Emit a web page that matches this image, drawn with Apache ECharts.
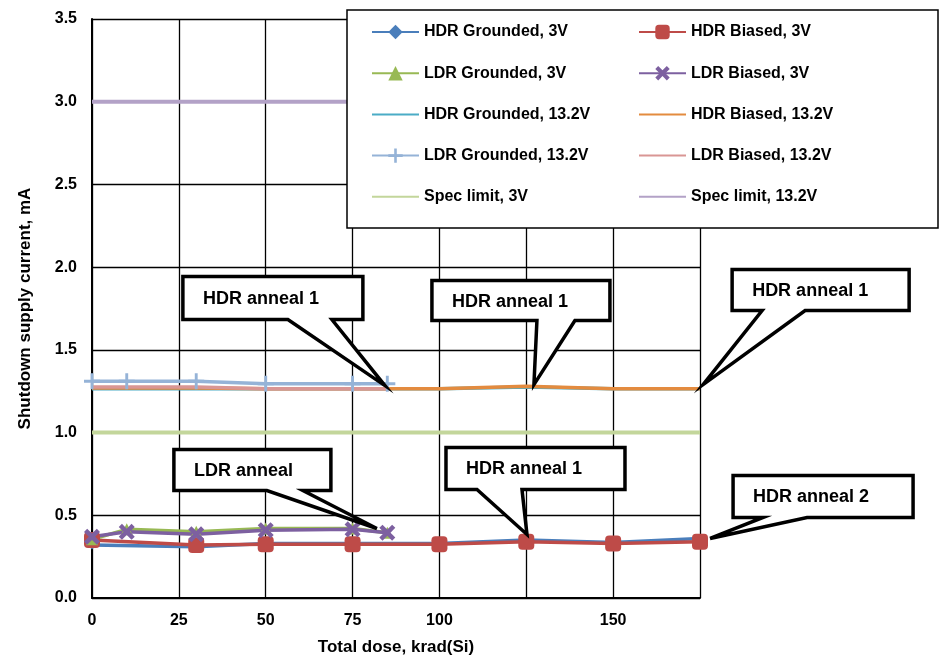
<!DOCTYPE html>
<html>
<head>
<meta charset="utf-8">
<script src="https://cdn.jsdelivr.net/npm/echarts@6/dist/echarts.min.js"></script>
<style>
html,body{margin:0;padding:0;background:#fff;}
#chart{width:943px;height:661px;}
</style>
</head>
<body>
<div id="chart"></div>
<script>
// ---- Data ----
const ldrDose = [0, 10, 30, 50, 75, 85];
const hdrDose = [0, 30, 50, 75, 100, 125, 150, 175];
const specDose = [0, 175];

const hdrGrounded3V  = [0.32, 0.31, 0.33, 0.33, 0.33, 0.35, 0.335, 0.36];
const hdrBiased3V    = [0.35, 0.32, 0.325, 0.325, 0.325, 0.34, 0.33, 0.34];
const ldrGrounded3V  = [0.355, 0.415, 0.40, 0.42, 0.42, 0.395];
const ldrBiased3V    = [0.37, 0.40, 0.385, 0.41, 0.415, 0.395];
const hdrGrounded13V = [1.265, 1.265, 1.265, 1.265, 1.265, 1.275, 1.265, 1.265];
const hdrBiased13V   = [1.27, 1.27, 1.265, 1.265, 1.265, 1.28, 1.265, 1.265];
const ldrGrounded13V = [1.31, 1.31, 1.31, 1.295, 1.295, 1.295];
const ldrBiased13V   = [1.275, 1.275, 1.275, 1.265, 1.265, 1.265];
const spec3V  = [1.0, 1.0];
const spec13V = [3.0, 3.0];

const seriesNames = [
  'HDR Grounded, 3V', 'HDR Biased, 3V',
  'LDR Grounded, 3V', 'LDR Biased, 3V',
  'HDR Grounded, 13.2V', 'HDR Biased, 13.2V',
  'LDR Grounded, 13.2V', 'LDR Biased, 13.2V',
  'Spec limit, 3V', 'Spec limit, 13.2V'
];

const xTickValues = [0, 25, 50, 75, 100, 150];

const calloutTexts   = ['HDR anneal 1', 'HDR anneal 1', 'HDR anneal 1', 'LDR anneal', 'HDR anneal 1', 'HDR anneal 2'];
const calloutDose    = [84.3, 127.2, 175.9, 82.0, 125.2, 177.9];
const calloutCurrent = [1.284, 1.29, 1.29, 0.42, 0.384, 0.36];

// ---- Layout / styles ----
const FONT = '"Liberation Sans", Arial, sans-serif';
// box offsets relative to the callout tip: [left, top, width, height, tailBaseLeft, tailBaseRight]
const calloutLayout = [
  [-202, -109, 180, 43, -97, -53],
  [-102, -104, 178, 40, 3, 41],
  [29, -115, 177, 41, 59, 102],
  [-203, -79, 157, 41, -110, -74],
  [-81, -87, 179, 42, -50, -5],
  [23, -63, 180, 42, 53, 97]
];

function pairs(xs, ys) { return xs.map((x, i) => [x, ys[i]]); }

const X_PATH = 'path://M2,0 L5,3 L8,0 L10,2 L7,5 L10,8 L8,10 L5,7 L2,10 L0,8 L3,5 L0,2 Z';
const PLUS_PATH = 'path://M4.1,0 H5.9 V4.1 H10 V5.9 H5.9 V10 H4.1 V5.9 H0 V4.1 H4.1 Z';

function lineSeries(name, data, color, opts) {
  return Object.assign({
    name: name,
    type: 'line',
    data: data,
    symbol: 'none',
    symbolSize: 10,
    lineStyle: { color: color, width: 3.5 },
    itemStyle: { color: 'rgba(0,0,0,0)' },
    emphasis: { disabled: true },
    animation: false
  }, opts || {});
}

const series = [
  lineSeries(seriesNames[0], pairs(hdrDose, hdrGrounded3V), '#4A7EBB', { symbol: 'diamond', symbolSize: 9, itemStyle: { color: '#4A7EBB' } }),
  lineSeries(seriesNames[1], pairs(hdrDose, hdrBiased3V), '#BE4B48', { symbol: 'roundRect', symbolSize: 16, itemStyle: { color: '#BE4B48' } }),
  lineSeries(seriesNames[2], pairs(ldrDose, ldrGrounded3V), '#98B954', { symbol: 'triangle', symbolSize: 12, itemStyle: { color: '#98B954' } }),
  lineSeries(seriesNames[3], pairs(ldrDose, ldrBiased3V), '#7D60A0', { symbol: X_PATH, symbolSize: 16, itemStyle: { color: '#7D60A0' } }),
  lineSeries(seriesNames[4], pairs(hdrDose, hdrGrounded13V), '#4BACC6'),
  lineSeries(seriesNames[5], pairs(hdrDose, hdrBiased13V), '#E38B3F'),
  lineSeries(seriesNames[6], pairs(ldrDose, ldrGrounded13V), '#95B3D7', { symbol: PLUS_PATH, symbolSize: 16, itemStyle: { color: '#95B3D7' } }),
  lineSeries(seriesNames[7], pairs(ldrDose, ldrBiased13V), '#D99694'),
  lineSeries(seriesNames[8], pairs(specDose, spec3V), '#C3D69B', { lineStyle: { color: '#C3D69B', width: 4 } }),
  lineSeries(seriesNames[9], pairs(specDose, spec13V), '#B3A2C7', { lineStyle: { color: '#B3A2C7', width: 4 } })
];

const legendText = { color: '#000', fontFamily: FONT, fontWeight: 'bold', fontSize: 16 };

const chart = echarts.init(document.getElementById('chart'), null, { renderer: 'canvas' });

chart.setOption({
  animation: false,
  backgroundColor: '#fff',
  grid: { left: 92, right: 243, top: 19, bottom: 58, containLabel: false },
  xAxis: {
    type: 'value',
    min: 0, max: 175, interval: 25,
    name: 'Total dose, krad(Si)',
    nameLocation: 'middle',
    nameGap: 41,
    nameTextStyle: { color: '#000', fontFamily: FONT, fontWeight: 'bold', fontSize: 17 },
    axisLine: { show: true, lineStyle: { color: '#000', width: 2 } },
    axisTick: { show: false },
    axisLabel: {
      color: '#000', fontFamily: FONT, fontWeight: 'bold', fontSize: 16, margin: 15,
      formatter: v => (xTickValues.indexOf(v) >= 0 ? String(v) : '')
    },
    splitLine: { show: true, lineStyle: { color: '#000', width: 1.3 } }
  },
  yAxis: {
    type: 'value',
    min: 0, max: 3.5, interval: 0.5,
    name: 'Shutdown supply current, mA',
    nameLocation: 'middle',
    nameGap: 58,
    nameTextStyle: { color: '#000', fontFamily: FONT, fontWeight: 'bold', fontSize: 17 },
    axisLine: { show: true, lineStyle: { color: '#000', width: 2 } },
    axisTick: { show: false },
    axisLabel: {
      color: '#000', fontFamily: FONT, fontWeight: 'bold', fontSize: 16, margin: 15,
      formatter: v => v.toFixed(1)
    },
    splitLine: { show: true, lineStyle: { color: '#000', width: 1.3 } }
  },
  legend: [
    {
      orient: 'vertical', left: 371, top: 24, padding: 0, itemGap: 25.2,
      itemWidth: 47, itemHeight: 18, z: 10,
      textStyle: legendText,
      data: [seriesNames[0], seriesNames[2], seriesNames[4], seriesNames[6], seriesNames[8]]
    },
    {
      orient: 'vertical', left: 638, top: 24, padding: 0, itemGap: 25.2,
      itemWidth: 47, itemHeight: 18, z: 10,
      textStyle: legendText,
      data: [seriesNames[1], seriesNames[3], seriesNames[5], seriesNames[7], seriesNames[9]]
    }
  ],
  series: series
});

// ---- Callouts and legend box (positioned via the chart's own scales) ----
const graphics = [{
  type: 'rect', z: 5, silent: true,
  shape: { x: 347, y: 10, width: 591, height: 218 },
  style: { fill: '#fff', stroke: '#000', lineWidth: 1.5 }
}];

calloutTexts.forEach((t, i) => {
  const tip = chart.convertToPixel({ gridIndex: 0 }, [calloutDose[i], calloutCurrent[i]]);
  const L = calloutLayout[i];
  const bx = tip[0] + L[0], by = tip[1] + L[1], bw = L[2], bh = L[3];
  const bb = by + bh;
  const points = [
    [bx, by], [bx + bw, by], [bx + bw, bb],
    [tip[0] + L[5], bb], [tip[0], tip[1]], [tip[0] + L[4], bb],
    [bx, bb]
  ];
  graphics.push({
    type: 'polygon', z: 20, silent: true,
    shape: { points: points },
    style: { fill: '#fff', stroke: '#000', lineWidth: 3.5, lineJoin: 'miter' }
  });
  graphics.push({
    type: 'text', z: 21, silent: true,
    x: bx + 20, y: by + bh / 2 + 1,
    style: { text: t, fill: '#000', font: 'bold 18px ' + FONT, verticalAlign: 'middle', align: 'left' }
  });
});

chart.setOption({ graphic: graphics });
</script>
</body>
</html>
